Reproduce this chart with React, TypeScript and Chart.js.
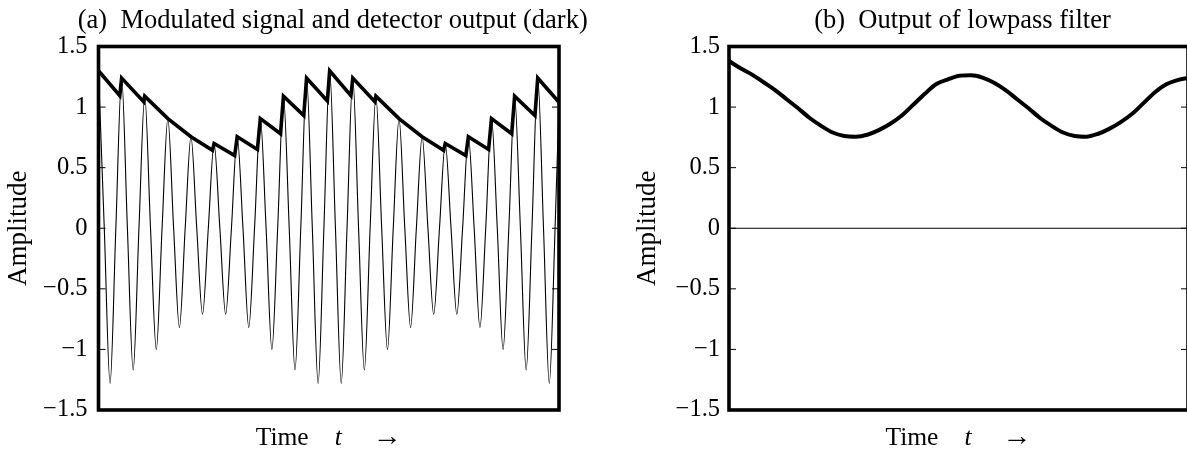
import { useEffect, useRef } from "react";
import { Chart, registerables } from "chart.js";

Chart.register(...registerables);

const FONT = "'Liberation Serif', 'Times New Roman', Times, serif";

const titleA = "(a)  Modulated signal and detector output (dark)";
const titleB = "(b)  Output of lowpass filter";
const yAxisTitle = "Amplitude";
const xLabelParts = ["Time", "t", "→"];

const yTickValues = [-1.5, -1, -0.5, 0, 0.5, 1, 1.5];
const yTickLabels = ["−1.5", "−1", "−0.5", "0", "0.5", "1", "1.5"];

const tMin = 0;
const tMax = 19.92;

// Modulated carrier: samples at peaks, zero crossings and troughs
const carrierTimes = [
  0, 0.25, 0.5, 0.75, 1, 1.25, 1.5, 1.75, 2, 2.25, 2.5, 2.75, 3, 3.25, 3.5, 3.75,
  4, 4.25, 4.5, 4.75, 5, 5.25, 5.5, 5.75, 6, 6.25, 6.5, 6.75, 7, 7.25, 7.5, 7.75,
  8, 8.25, 8.5, 8.75, 9, 9.25, 9.5, 9.75, 10, 10.25, 10.5, 10.75, 11, 11.25, 11.5, 11.75,
  12, 12.25, 12.5, 12.75, 13, 13.25, 13.5, 13.75, 14, 14.25, 14.5, 14.75, 15, 15.25, 15.5, 15.75,
  16, 16.25, 16.5, 16.75, 17, 17.25, 17.5, 17.75, 18, 18.25, 18.5, 18.75, 19, 19.25, 19.5, 19.75,
  19.92,
];
const carrierValues = [
  1.3, 0, -1.28, 0, 1.24, 0, -1.17, 0, 1.09, 0, -1.0, 0, 0.905, 0, -0.82, 0,
  0.755, 0, -0.71, 0, 0.7, 0, -0.71, 0, 0.755, 0, -0.82, 0, 0.905, 0, -1.0, 0,
  1.09, 0, -1.17, 0, 1.24, 0, -1.28, 0, 1.3, 0, -1.28, 0, 1.24, 0, -1.17, 0,
  1.09, 0, -1.0, 0, 0.905, 0, -0.82, 0, 0.755, 0, -0.71, 0, 0.7, 0, -0.71, 0,
  0.755, 0, -0.82, 0, 0.905, 0, -1.0, 0, 1.09, 0, -1.17, 0, 1.24, 0, -1.28, 0,
  1.04,
];

// Envelope detector output (sawtooth)
const detectorTimes = [
  0, 0.92, 1, 1.955, 2, 3, 4, 4.93, 5, 5.89, 6, 6.875, 7, 7.875, 8, 8.88, 9, 9.9,
  10, 10.92, 11, 11.955, 12, 13, 14, 14.93, 15, 15.89, 16, 16.875, 17, 17.875, 18, 18.88, 19, 19.92,
];
const detectorValues = [
  1.3, 1.095, 1.24, 1.045, 1.09, 0.905, 0.755, 0.643, 0.7, 0.6, 0.755, 0.65, 0.905, 0.78, 1.09, 0.93, 1.24, 1.05,
  1.3, 1.095, 1.24, 1.045, 1.09, 0.905, 0.755, 0.643, 0.7, 0.6, 0.755, 0.65, 0.905, 0.78, 1.09, 0.93, 1.24, 1.04,
];

// Lowpass filter output
const lowpassTimes = [
  0, 0.5, 1, 1.5, 2, 2.5, 3, 3.5, 4, 4.5, 5, 5.5, 6, 6.5, 7, 7.5, 8, 8.5, 9, 9.5,
  10, 10.5, 11, 11.5, 12, 12.5, 13, 13.5, 14, 14.5, 15, 15.5, 16, 16.5, 17, 17.5, 18, 18.5, 19, 19.5,
  19.92,
];
const lowpassValues = [
  1.38, 1.32, 1.268, 1.205, 1.14, 1.065, 0.99, 0.91, 0.845, 0.79, 0.762, 0.756, 0.772, 0.81, 0.862, 0.93, 1.02, 1.11, 1.19, 1.228,
  1.258, 1.262, 1.243, 1.2, 1.14, 1.065, 0.99, 0.91, 0.845, 0.79, 0.762, 0.756, 0.778, 0.82, 0.876, 0.945, 1.035, 1.125, 1.19, 1.225,
  1.24,
];

const zeroLineTimes = [0, 19.92];
const zeroLineValues = [0, 0];

function pts(ts: number[], vs: number[]) {
  return ts.map((t, i) => ({ x: t, y: vs[i] }));
}

const framePlugin = {
  id: "frame",
  afterDatasetsDraw(chart: any) {
    const { ctx, chartArea: a } = chart;
    const y = chart.scales.y;
    ctx.save();
    ctx.strokeStyle = "#000";
    ctx.lineWidth = 1;
    for (const v of yTickValues) {
      const py = y.getPixelForValue(v);
      ctx.beginPath();
      ctx.moveTo(a.left, py);
      ctx.lineTo(a.left + 7, py);
      ctx.moveTo(a.right, py);
      ctx.lineTo(a.right - 7, py);
      ctx.stroke();
    }
    ctx.lineWidth = 3.6;
    ctx.lineJoin = "miter";
    ctx.strokeRect(a.left, a.top, a.right - a.left, a.bottom - a.top);
    ctx.restore();
  },
};

const textPlugin = {
  id: "panelText",
  afterDraw(chart: any, _args: any, opts: any) {
    const { ctx, chartArea: a } = chart;
    const cx = (a.left + a.right) / 2;
    ctx.save();
    ctx.fillStyle = "#000";
    ctx.textBaseline = "alphabetic";
    ctx.textAlign = "center";
    ctx.font = `26.5px ${FONT}`;
    ctx.fillText(opts.title, cx + 4, 28);

    const normal = `25.5px ${FONT}`;
    const italic = `italic 25.5px ${FONT}`;
    const arrow = `29px ${FONT}`;
    ctx.textAlign = "left";
    ctx.font = normal;
    const w0 = ctx.measureText(xLabelParts[0]).width;
    ctx.font = arrow;
    const w2 = ctx.measureText(xLabelParts[2]).width;
    ctx.font = italic;
    const w1 = ctx.measureText(xLabelParts[1]).width;
    const gap1 = 26;
    const gap2 = 31;
    const total = w0 + gap1 + w1 + gap2 + w2;
    let x = cx - total / 2;
    const base = 445;
    ctx.font = normal;
    ctx.fillText(xLabelParts[0], x, base);
    x += w0 + gap1;
    ctx.font = italic;
    ctx.fillText(xLabelParts[1], x, base);
    x += w1 + gap2;
    ctx.font = arrow;
    ctx.fillText(xLabelParts[2], x, base);
    ctx.restore();
  },
};

function makeOptions(title: string, yAxisWidth: number, padRight: number, yTitlePad: number, tickPad: number): any {
  return {
    animation: false,
    responsive: false,
    maintainAspectRatio: false,
    events: [],
    layout: { padding: { left: 0, right: padRight, top: 46.5, bottom: 0 } },
    plugins: {
      legend: { display: false },
      tooltip: { enabled: false },
      title: { display: false },
      panelText: { title },
    },
    scales: {
      x: {
        type: "linear",
        min: tMin,
        max: tMax,
        ticks: { display: false },
        grid: { display: false, drawTicks: false },
        border: { display: false },
        afterFit: (s: any) => {
          s.height = 39;
        },
      },
      y: {
        type: "linear",
        min: -1.5,
        max: 1.5,
        afterBuildTicks: (s: any) => {
          s.ticks = yTickValues.map((v) => ({ value: v }));
        },
        ticks: {
          color: "#000",
          font: { family: FONT, size: 24.5 },
          padding: tickPad,
          callback: (v: any) => {
            const i = yTickValues.indexOf(Number(v));
            return i >= 0 ? yTickLabels[i] : "";
          },
        },
        grid: { display: false, drawTicks: false },
        border: { display: false },
        title: {
          display: true,
          text: yAxisTitle,
          color: "#000",
          font: { family: FONT, size: 27 },
          padding: { top: yTitlePad, bottom: 0 },
        },
        afterFit: (s: any) => {
          s.width = yAxisWidth;
        },
      },
    },
  };
}

export default function App() {
  const leftRef = useRef<HTMLCanvasElement | null>(null);
  const rightRef = useRef<HTMLCanvasElement | null>(null);

  useEffect(() => {
    if (!leftRef.current || !rightRef.current) return;
    const left = new Chart(leftRef.current, {
      type: "line",
      data: {
        datasets: [
          {
            label: "Detector output",
            data: pts(detectorTimes, detectorValues),
            borderColor: "#000",
            borderWidth: 3.6,
            pointRadius: 0,
            tension: 0,
            borderJoinStyle: "miter",
            order: 0,
          },
          {
            label: "Modulated signal",
            data: pts(carrierTimes, carrierValues),
            borderColor: "#000",
            borderWidth: 1.1,
            pointRadius: 0,
            cubicInterpolationMode: "monotone",
            order: 1,
          },
        ],
      },
      options: makeOptions(titleA, 98.5, 41, 2.3, 11),
      plugins: [framePlugin, textPlugin],
    } as any);

    const right = new Chart(rightRef.current, {
      type: "line",
      data: {
        datasets: [
          {
            label: "Lowpass output",
            data: pts(lowpassTimes, lowpassValues),
            borderColor: "#000",
            borderWidth: 4,
            pointRadius: 0,
            cubicInterpolationMode: "monotone",
            borderJoinStyle: "round",
            borderCapStyle: "round",
            order: 0,
          },
          {
            label: "Zero",
            data: pts(zeroLineTimes, zeroLineValues),
            borderColor: "#000",
            borderWidth: 1.2,
            pointRadius: 0,
            order: 1,
          },
        ],
      },
      options: makeOptions(titleB, 129, 12, 31.8, 9),
      plugins: [framePlugin, textPlugin],
    } as any);

    return () => {
      left.destroy();
      right.destroy();
    };
  }, []);

  return (
    <div
      style={{
        position: "fixed",
        left: 0,
        top: 0,
        width: 1187,
        height: 449,
        overflow: "hidden",
        background: "#fff",
      }}
    >
      <canvas
        ref={leftRef}
        width={600}
        height={449}
        style={{ position: "absolute", left: 0, top: 0, width: 600, height: 449 }}
      />
      <canvas
        ref={rightRef}
        width={600}
        height={449}
        style={{ position: "absolute", left: 600, top: 0, width: 600, height: 449 }}
      />
    </div>
  );
}
